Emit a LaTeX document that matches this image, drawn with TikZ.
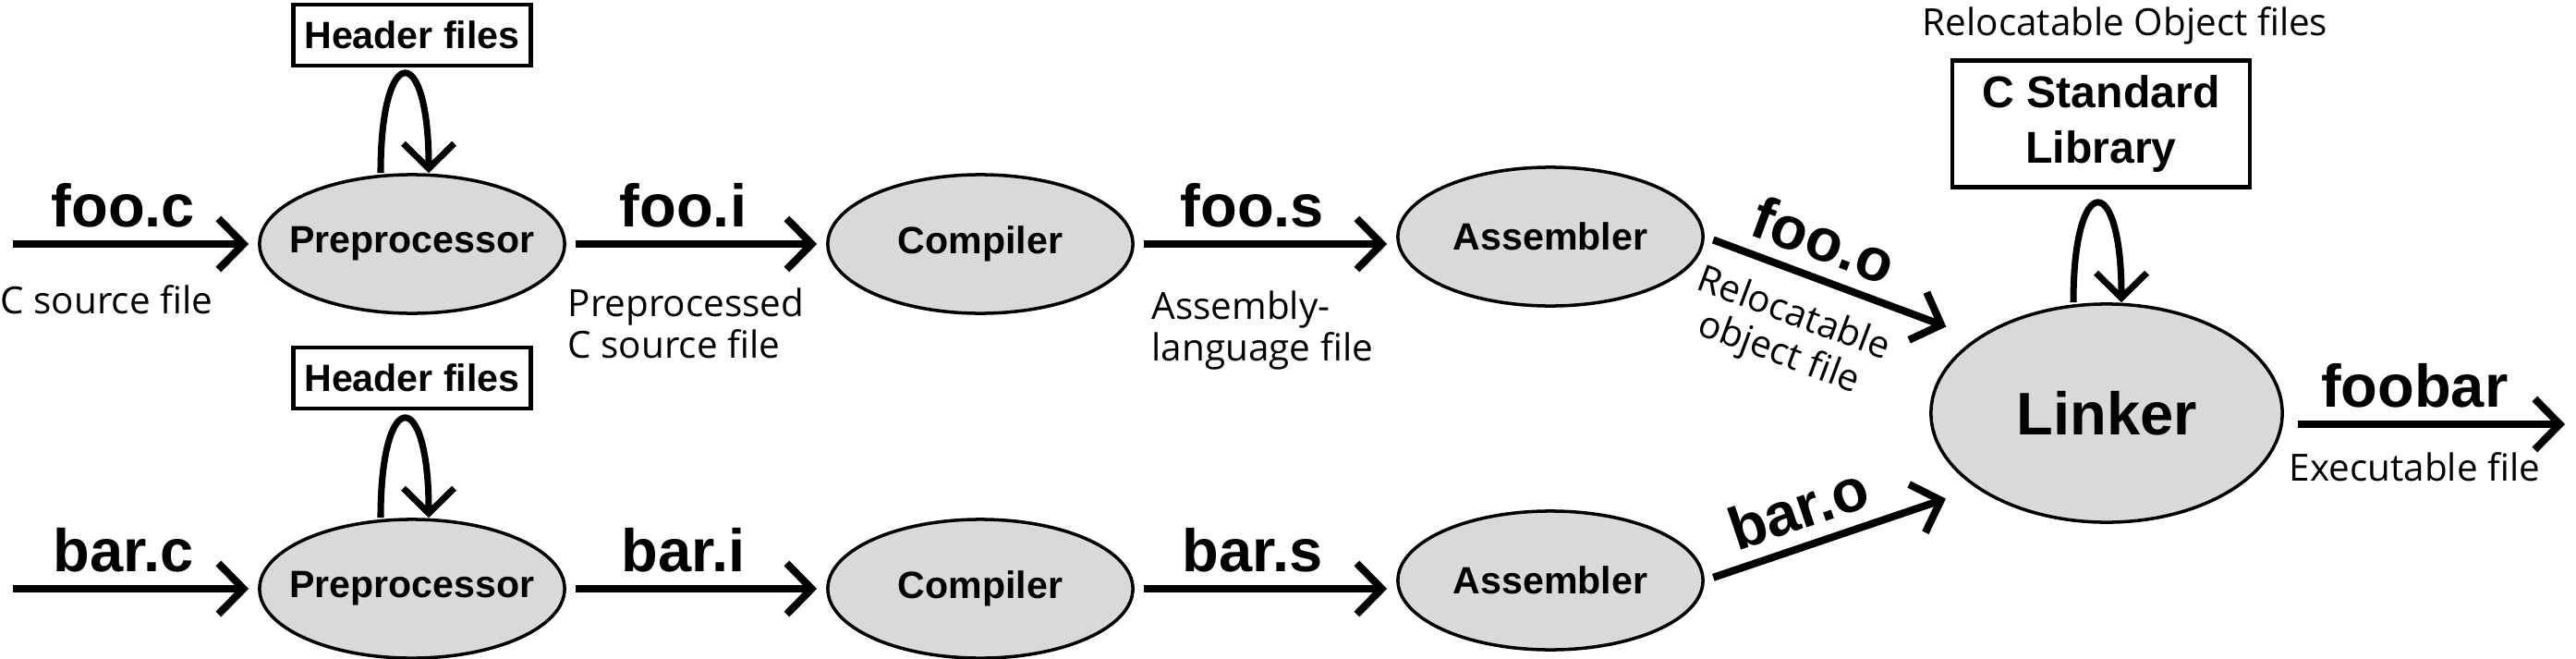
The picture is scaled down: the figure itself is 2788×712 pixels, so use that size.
\documentclass[tikz,border=0pt]{standalone}
\usepackage{fontspec}
\setmainfont{Liberation Sans}
\newfontfamily\lightfont{Open Sans}
\usepackage{tikz}
\usetikzlibrary{arrows.meta}
\usetikzlibrary{positioning}
\usetikzlibrary{shapes}
\usetikzlibrary{calc}
\definecolor{procgray}{RGB}{217,217,217}
\tikzset{
  procnode/.style = {ellipse, draw=black, fill=procgray, line width=1pt,
    minimum width=3.3cm, minimum height=1.5cm, inner sep=0pt,
    font=\bfseries\fontsize{11.7}{14}\selectfont},% etape de compilation
  filebox/.style = {rectangle, draw=black, line width=1.2pt, inner sep=0pt,
    align=center, font=\bfseries\fontsize{11.7}{14}\selectfont},% boite, fichiers
  fname/.style = {font=\bfseries\fontsize{18.5}{22}\selectfont,
    inner sep=1.4mm},% nom de fichier
  fdesc/.style = {font=\lightfont\fontsize{11.5}{12.8}\selectfont,
    inner sep=0pt, align=left},% type de fichier
  flow/.style = {->, line width=2.3pt, shorten <=1mm, shorten >=1mm},
  selfloop/.style = {->, line width=2pt}
}

\begin{document}
\begin{tikzpicture}[x=0.01cm,y=-0.01cm,>={Straight Barb[length=2.7mm,width=5.5mm]}]
\useasboundingbox (0,0) rectangle (2788,712);

% foo
\node [procnode] (pre1) at (446,264) {\makebox[0pt]{Preprocessor}};
\node [procnode] (comp1) at (1061,264) {Compiler};
\node [procnode] (asm1) at (1678,256) {Assembler};
% bar
\node [procnode] (pre2) at (446,637) {\makebox[0pt]{Preprocessor}};
\node [procnode] (comp2) at (1061,637) {Compiler};
\node [procnode] (asm2) at (1678,628) {Assembler};

\node [procnode, minimum width=3.8cm, minimum height=2.36cm,
  font=\bfseries\fontsize{18.5}{22}\selectfont] (link) at (2280,447) {Linker};

\node [filebox, minimum width=2.57cm, minimum height=0.66cm] (hdr1) at (446,38) {Header files};
\node [filebox, minimum width=2.57cm, minimum height=0.66cm] (hdr2) at (446,409) {Header files};
\node [filebox, minimum width=3.22cm, minimum height=1.37cm,
  font=\bfseries\fontsize{13.7}{17}\selectfont] (libc) at (2274,134) {C Standard\\Library};
\node [fdesc, anchor=base] (objs) at (2300,38) {Relocatable Object files};

\coordinate (src1) at (4,264);
\coordinate (src2) at (4,637);
\coordinate (exe) at (2786,459);

\draw [flow] (src1) -- node [fname, pos=.47, above] {foo.c} (pre1);
\draw [flow] (pre1) -- node [fname, pos=.45, above] {foo.i} (comp1);
\draw [flow] (comp1) -- node [fname, pos=.45, above] {foo.s} (comp1 -| asm1.west);
\draw [flow, shorten >=3.5mm] (asm1.east) --
  node [fname, pos=.39, above, sloped] {foo.o}
  node [fdesc, pos=.38, below=2.2mm, sloped, align=center] {Relocatable\\object file} (link.150);

\draw [flow] (src2) -- node [fname, pos=.47, above] {bar.c} (pre2);
\draw [flow] (pre2) -- node [fname, pos=.45, above] {bar.i} (comp2);
\draw [flow] (comp2) -- node [fname, pos=.45, above] {bar.s} (comp2 -| asm2.west);
\draw [flow, shorten >=3.5mm] (asm2.east) --
  node [fname, pos=.39, above, sloped] {bar.o} (link.210);

\draw [flow, shorten <=1.5mm] (link.east |- exe) -- node [fname, pos=.45, above] {foobar} (exe);

\draw [selfloop] ([xshift=-3.4mm]pre1.north) .. controls +(0,-143) and +(0,-143) .. ([xshift=1.8mm]pre1.north);
\draw [selfloop] ([xshift=-3.4mm]pre2.north) .. controls +(0,-143) and +(0,-143) .. ([xshift=1.8mm]pre2.north);
\draw [selfloop] ([xshift=-3.6mm]link.north) .. controls +(0,-143) and +(0,-143) .. ([xshift=1.6mm]link.north);

\node [fdesc, anchor=base west] (d1) at (0,339) {C source file};
\node [fdesc, anchor=north west] (d2) at (614,311) {Preprocessed\\C source file};
\node [fdesc, anchor=north west] (d3) at (1246,314) {Assembly-\\language file};
\node [fdesc, anchor=base west] (d4) at (2477,520) {Executable file};
\end{tikzpicture}
\end{document}
